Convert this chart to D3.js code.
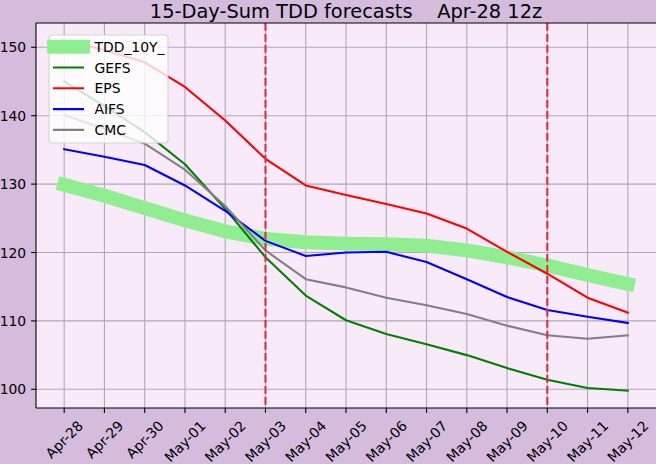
<!DOCTYPE html>
<html>
<head>
<meta charset="utf-8">
<script src="https://cdn.jsdelivr.net/npm/d3@7"></script>
<style>
  html, body { margin: 0; padding: 0; background: #d5bbdc; }
  svg { display: block; font-family: "DejaVu Sans", sans-serif; }
</style>
</head>
<body>
<svg id="chart" width="656" height="464"></svg>
<script>
// ---------------------------------------------------------------------------
// Data
// ---------------------------------------------------------------------------

const days = ["Apr-28", "Apr-29", "Apr-30", "May-01", "May-02", "May-03", "May-04",
              "May-05", "May-06", "May-07", "May-08", "May-09", "May-10", "May-11", "May-12"];

const tdd10y = [129.9, 128.3, 126.5, 124.7, 123.1, 122.0, 121.5, 121.3, 121.2, 121.0, 120.3, 119.3, 118.1, 116.7, 115.4];
const gefs   = [145.0, 141.4, 137.6, 132.9, 126.4, 119.3, 113.7, 110.1, 108.1, 106.6, 105.0, 103.1, 101.4, 100.2, 99.8];
const eps    = [151.0, 149.6, 147.8, 144.2, 139.3, 133.7, 129.8, 128.4, 127.1, 125.7, 123.5, 120.1, 116.9, 113.4, 111.2];
const aifs   = [135.1, 134.0, 132.8, 129.8, 126.1, 121.7, 119.5, 120.0, 120.1, 118.6, 116.1, 113.5, 111.6, 110.6, 109.7];
const cmc    = [140.1, 138.1, 135.9, 132.1, 126.8, 120.3, 116.1, 114.9, 113.4, 112.3, 111.0, 109.3, 107.9, 107.4, 107.9];

const yTicks = [100, 110, 120, 130, 140, 150];
const markerDays = ["May-03", "May-10"];

const series = [
    { name: "TDD_10Y_", values: tdd10y, color: "#90ee90", width: 13.9 },
    { name: "GEFS",     values: gefs,   color: "#008000", width: 2.1 },
    { name: "EPS",      values: eps,    color: "#ff0000", width: 2.1 },
    { name: "AIFS",     values: aifs,   color: "#0000ff", width: 2.1 },
    { name: "CMC",      values: cmc,    color: "#808080", width: 2.1 }
];

// ---------------------------------------------------------------------------
// Layout
// ---------------------------------------------------------------------------

const width = 656, height = 464;
const plot = { left: 36, right: 656, top: 23, bottom: 408 };

const svg = d3.select("#chart");

const x = d3.scaleLinear().domain([-0.7, days.length - 1 + 0.7]).range([plot.left, plot.right]);
const y = d3.scaleLinear().domain([97.27, 153.55]).range([plot.bottom, plot.top]);

svg.append("rect")
    .attr("x", plot.left).attr("y", plot.top)
    .attr("width", plot.right - plot.left).attr("height", plot.bottom - plot.top)
    .attr("fill", "#f9eafa");

// grid
const grid = svg.append("g").attr("stroke", "#b0a8b4").attr("stroke-width", 1.1);
grid.selectAll("line.v")
    .data(days)
    .join("line")
    .attr("class", "v")
    .attr("x1", (d, i) => x(i)).attr("x2", (d, i) => x(i))
    .attr("y1", plot.top).attr("y2", plot.bottom);
grid.selectAll("line.h")
    .data(yTicks)
    .join("line")
    .attr("class", "h")
    .attr("x1", plot.left).attr("x2", plot.right)
    .attr("y1", d => y(d)).attr("y2", d => y(d));

// ---------------------------------------------------------------------------
// Lines
// ---------------------------------------------------------------------------

const line = d3.line().x((d, i) => x(i)).y(d => y(d));

svg.append("clipPath").attr("id", "plotclip")
    .append("rect")
    .attr("x", plot.left).attr("y", plot.top)
    .attr("width", plot.right - plot.left).attr("height", plot.bottom - plot.top);

const lines = svg.append("g").attr("clip-path", "url(#plotclip)");

lines.selectAll("path")
    .data(series)
    .join("path")
    .attr("d", d => line(d.values))
    .attr("fill", "none")
    .attr("stroke", d => d.color)
    .attr("stroke-width", d => d.width)
    .attr("stroke-linejoin", "round")
    .attr("stroke-linecap", "square");

// red dashed markers
lines.selectAll("line.mark")
    .data(markerDays)
    .join("line")
    .attr("class", "mark")
    .attr("x1", d => x(days.indexOf(d))).attr("x2", d => x(days.indexOf(d)))
    .attr("y1", plot.top).attr("y2", plot.bottom)
    .attr("stroke", "#d8323f")
    .attr("stroke-width", 2.1)
    .attr("stroke-dasharray", "7.7,3.3");

// ---------------------------------------------------------------------------
// Axes
// ---------------------------------------------------------------------------

const axes = svg.append("g").attr("stroke", "#000").attr("stroke-width", 1.1);
axes.append("line").attr("x1", plot.left).attr("x2", plot.left).attr("y1", plot.top).attr("y2", plot.bottom);
axes.append("line").attr("x1", plot.left).attr("x2", plot.right).attr("y1", plot.bottom).attr("y2", plot.bottom);
axes.append("line").attr("x1", plot.left).attr("x2", plot.right).attr("y1", plot.top).attr("y2", plot.top);

// y ticks
const yAxis = svg.append("g");
yAxis.selectAll("line")
    .data(yTicks)
    .join("line")
    .attr("x1", plot.left - 4.9).attr("x2", plot.left)
    .attr("y1", d => y(d)).attr("y2", d => y(d))
    .attr("stroke", "#000").attr("stroke-width", 1.1);
yAxis.selectAll("text")
    .data(yTicks)
    .join("text")
    .attr("x", plot.left - 9.8)
    .attr("y", d => y(d))
    .attr("dy", "0.36em")
    .attr("text-anchor", "end")
    .attr("font-size", "13.9px")
    .text(d => d);

// x ticks, rotated 45° with the rotated box centred on the tick
const xAxis = svg.append("g");
xAxis.selectAll("line")
    .data(days)
    .join("line")
    .attr("x1", (d, i) => x(i)).attr("x2", (d, i) => x(i))
    .attr("y1", plot.bottom).attr("y2", plot.bottom + 4.9)
    .attr("stroke", "#000").attr("stroke-width", 1.1);
const xLabels = xAxis.selectAll("text")
    .data(days)
    .join("text")
    .attr("text-anchor", "middle")
    .attr("dominant-baseline", "central")
    .attr("font-size", "13.9px")
    .text(d => d);
xLabels.each(function (d, i) {
    const w = this.getComputedTextLength();
    const h = 13.9 * 1.1;
    const cy = plot.bottom + 9.8 + (w + h) * Math.SQRT1_2 / 2;
    d3.select(this).attr("transform", `translate(${x(i)},${cy}) rotate(-45)`);
});

// title
svg.append("text")
    .attr("x", (plot.left + plot.right) / 2)
    .attr("y", 18)
    .attr("text-anchor", "middle")
    .attr("font-size", "19.4px")
    .attr("xml:space", "preserve")
    .style("white-space", "pre")
    .text("15-Day-Sum TDD forecasts    Apr-28 12z");

// ---------------------------------------------------------------------------
// Legend
// ---------------------------------------------------------------------------

const legend = svg.append("g").attr("transform", "translate(49,35)");
legend.append("rect")
    .attr("width", 119).attr("height", 108)
    .attr("rx", 3)
    .attr("fill", "#ffffff").attr("fill-opacity", 0.8)
    .attr("stroke", "#cccccc").attr("stroke-opacity", 0.8)
    .attr("stroke-width", 1.1);

const rows = legend.selectAll("g.row")
    .data(series)
    .join("g")
    .attr("class", "row")
    .attr("transform", (d, i) => `translate(0,${11.7 + i * 20.8})`);
rows.append("line")
    .attr("x1", 5).attr("x2", 34)
    .attr("stroke", d => d.color)
    .attr("stroke-width", d => d.width)
    .attr("stroke-linecap", "square");
rows.append("text")
    .attr("x", 45.5)
    .attr("dy", "0.36em")
    .attr("font-size", "13.9px")
    .text(d => d.name);
</script>
</body>
</html>
